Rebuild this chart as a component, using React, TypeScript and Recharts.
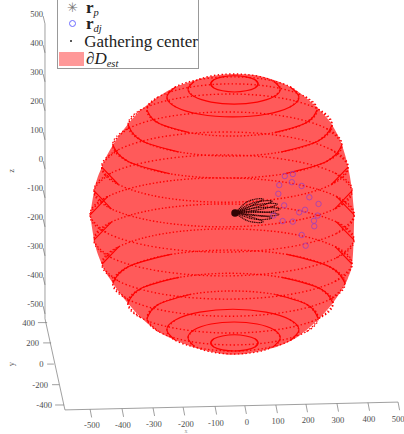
import React from "react";
import { ComposedChart, XAxis, YAxis, Area, Line, Scatter } from "recharts";

// Projected read-outs, in the units of the x and z tick labels.
const outlineX = [-511,-498,-473,-437,-388,-343,-289,-232,-172,-114,-42,16,72,114,169,233,277,309,329,342,347,349];
const outlineTop = [-193,-110,-28,48,120,171,214,249,270,286,293,290,277,262,230,171,117,48,-28,-110,-165,-193];
const outlineBottom = [-193,-279,-362,-428,-497,-549,-595,-626,-650,-665,-675,-668,-655,-640,-610,-552,-500,-450,-410,-362,-285,-200];

const ringX = [
  [36,26,-3,-41,-80,-108,-118],
  [108,88,33,-42,-117,-172,-192],
  [169,140,62,-46,-154,-232,-261],
  [228,191,90,-49,-188,-289,-326],
  [277,233,111,-55,-221,-343,-387],
  [309,259,123,-64,-251,-387,-437],
  [329,275,129,-72,-273,-419,-473],
  [342,286,132,-78,-288,-442,-498],
  [349,291,134,-81,-296,-453,-511],
  [348,291,137,-75,-287,-441,-498],
  [342,287,139,-65,-269,-417,-472],
  [319,268,130,-59,-248,-386,-437],
  [280,235,113,-54,-221,-343,-388],
  [231,194,92,-47,-186,-288,-325],
  [169,140,62,-46,-154,-232,-261],
  [108,88,33,-42,-117,-172,-192],
  [36,26,-3,-41,-80,-108,-118],
];
const ringLower = [
  [259,245,235,231,235,245,259],
  [241,215,196,189,196,215,241],
  [214,179,154,145,154,179,214],
  [169,124,91,79,91,124,169],
  [117,63,24,10,24,63,117],
  [48,-9,-51,-66,-51,-9,48],
  [-28,-88,-133,-149,-133,-88,-28],
  [-110,-172,-217,-234,-217,-172,-110],
  [-193,-257,-304,-321,-304,-257,-193],
  [-279,-341,-386,-403,-386,-341,-279],
  [-362,-422,-467,-483,-467,-422,-362],
  [-428,-485,-527,-542,-527,-485,-428],
  [-497,-549,-586,-600,-586,-549,-497],
  [-548,-595,-629,-641,-629,-595,-548],
  [-590,-626,-652,-662,-652,-626,-590],
  [-617,-645,-665,-672,-665,-645,-617],
  [-634,-648,-658,-662,-658,-648,-634],
];
const ringUpper = [
  [259,273,283,287,283,273,259],
  [241,267,286,293,286,267,241],
  [214,249,274,283,274,249,214],
  [169,214,247,259,247,214,169],
  [117,171,210,224,210,171,117],
  [48,105,147,162,147,105,48],
  [-28,32,77,93,77,32,-28],
  [-110,-48,-3,14,-3,-48,-110],
  [-193,-129,-82,-65,-82,-129,-193],
  [-279,-217,-172,-155,-172,-217,-279],
  [-362,-302,-257,-241,-257,-302,-362],
  [-428,-371,-329,-314,-329,-371,-428],
  [-497,-445,-408,-394,-408,-445,-497],
  [-548,-501,-467,-455,-467,-501,-548],
  [-590,-554,-528,-518,-528,-554,-590],
  [-617,-589,-569,-562,-569,-589,-617],
  [-634,-620,-610,-606,-610,-620,-634],
];

const rdjX = [123,149,105,146,178,102,203,233,121,189,170,230,86,218,116,149,219,178,191];
const rdjZ = [-59,-52,-90,-80,-93,-120,-132,-155,-160,-175,-184,-195,-195,-213,-214,-216,-232,-262,-299];
const gatherX = [-39];
const gatherZ = [-186];

const petalX = [
  [-39,-13,16,52,29,0,-39],
  [-39,-3,36,81,52,10,-39],
  [-39,3,49,98,65,16,-39],
  [-39,10,59,107,68,16,-39],
  [-39,10,59,104,62,10,-39],
  [-39,3,42,81,42,-3,-39],
  [-39,-7,23,52,16,-16,-39],
];
const petalZ = [
  [-186,-159,-141,-138,-153,-169,-186],
  [-186,-162,-147,-145,-159,-172,-186],
  [-186,-166,-155,-155,-169,-178,-186],
  [-186,-172,-167,-172,-183,-184,-186],
  [-186,-181,-183,-191,-197,-193,-186],
  [-186,-190,-195,-203,-209,-200,-186],
  [-186,-193,-203,-217,-217,-203,-186],
];

const zTicks = [500,400,300,200,100,0,-100,-200,-300,-400,-500];
const xTicks = [-500,-400,-300,-200,-100,0,100,200,300,400,500];
const xTickAt = [-511,-407,-306,-208,-104,-7,94,192,293,394,492];
const xTickBase = [-863,-861,-858,-856,-853,-851,-848,-845,-843,-840,-838];
const xLabelAt = [-505,-404,-303,-199,-101,0,101,199,296,397,492];
const xLabelZ = [-917,-917,-914,-914,-910,-907,-903,-900,-900,-896,-896];
const yTicks = [400,200,0,-200,-400];
const yTickStart = [-651,-638,-629,-612,-596];
const yTickEnd = [-681,-664,-651,-635,-625];
const yTickZ = [-564,-634,-707,-778,-848];
const yLabelAt = [-690,-677,-663,-648,-635];

const axisColor = "#777777";
const labelColor = "#4d4d4d";
const labelFont = "'Liberation Serif', serif";

const zip = (xs: number[], zs: number[]) => xs.map((x, i) => ({ x, z: zs[i] }));
const band = outlineX.map((x, i) => ({ x, band: [outlineBottom[i], outlineTop[i]] }));

const textMark = (anchor: string, size = 8.6, rotate = false, fill = labelColor) => (p: any) => (
  <text
    x={p.cx}
    y={p.cy}
    textAnchor={anchor as any}
    dominantBaseline="central"
    fontFamily={labelFont}
    fontSize={size}
    fill={fill}
    transform={rotate ? `rotate(-90 ${p.cx} ${p.cy})` : undefined}
  >
    {p.payload.label}
  </text>
);

const lineProps = {
  dataKey: "z",
  dot: false,
  activeDot: false,
  isAnimationActive: false,
  legendType: "none" as const,
};

function axisLines() {
  const out: React.ReactElement[] = [];
  const seg = (key: string, data: { x: number; z: number }[]) =>
    out.push(<Line key={key} {...lineProps} data={data} type="linear" stroke={axisColor} strokeWidth={0.7} />);
  seg("zaxis", zip([-658, -658, -593, 492], [466, -550, -865, -838]));
  zTicks.forEach((t) => seg("zt" + t, zip([-664, -658], [t - 7, t - 34])));
  yTicks.forEach((t, i) => seg("yt" + t, zip([yTickStart[i], yTickEnd[i]], [yTickZ[i], yTickZ[i]])));
  xTicks.forEach((t, i) => seg("xt" + t, zip([xTickAt[i], xTickAt[i] + 5], [xTickBase[i], xTickBase[i] - 28])));
  return out;
}

function ringLines() {
  const out: React.ReactElement[] = [];
  ringX.forEach((xs, r) => {
    const lo = ringLower[r];
    const up = ringUpper[r];
    const nearLower = r < 8;
    const near = nearLower ? lo : up;
    const far = nearLower ? up : lo;
    const nearArc = [{ x: xs[1], z: far[1] }, ...zip(xs, near), { x: xs[5], z: far[5] }];
    const farArc = [{ x: xs[1], z: near[1] }, ...zip(xs, far), { x: xs[5], z: near[5] }];
    const solidNear = r <= 2 || r >= 14;
    const both = r === 0 || r === 16;
    out.push(
      <Line key={"near" + r} {...lineProps} data={nearArc} type="natural" stroke="#ff0000" strokeWidth={solidNear ? 1.15 : 1.4}
        strokeDasharray={solidNear ? undefined : "1.4 2.1"} />,
      <Line key={"far" + r} {...lineProps} data={farArc} type="natural" stroke="#ff0000" strokeWidth={both ? 1.15 : 1.4}
        strokeDasharray={both ? undefined : "1.4 2.4"} />
    );
    if (!solidNear) {
      const reach = Math.abs(r - 8) >= 3 ? 2 : 1;
      const right = [{ x: xs[0], z: near[0] }];
      const left = [{ x: xs[6], z: near[6] }];
      for (let k = 1; k <= reach; k++) {
        right.push({ x: xs[k], z: near[k] });
        left.push({ x: xs[6 - k], z: near[6 - k] });
      }
      out.push(
        <Line key={"cr" + r} {...lineProps} data={right} type="natural" stroke="#ff0000" strokeWidth={1.15} />,
        <Line key={"cl" + r} {...lineProps} data={left} type="natural" stroke="#ff0000" strokeWidth={1.15} />
      );
    }
  });
  return out;
}

function LegendBox() {
  const row = (top: number, h: number, icon: React.ReactNode, label: React.ReactNode) => (
    <div style={{ position: "absolute", left: 0, top, height: h, width: 140, display: "flex", alignItems: "center" }}>
      <div style={{ width: 28, display: "flex", justifyContent: "center", alignItems: "center" }}>{icon}</div>
      <div style={{ whiteSpace: "nowrap", lineHeight: "15px" }}>{label}</div>
    </div>
  );
  const sub = { fontSize: 10.5, fontStyle: "italic", verticalAlign: "-3px", lineHeight: 0 } as React.CSSProperties;
  return (
    <div
      style={{
        position: "absolute", left: 57, top: -20, width: 142, height: 89, boxSizing: "border-box",
        background: "#fff", border: "1px solid #999", fontFamily: labelFont, fontSize: 17, color: "#222",
      }}
    >
      {row(19, 15, <span style={{ color: "#777", fontSize: 13, lineHeight: "14px" }}>✳</span>,
        <span><b>r</b><span style={sub}>p</span></span>)}
      {row(35, 15, <span style={{ width: 5, height: 5, border: "1px solid #6a6aff", borderRadius: "50%", display: "block" }} />,
        <span><b>r</b><span style={sub}>dj</span></span>)}
      {row(52, 16, <span style={{ width: 2, height: 2, background: "#222", borderRadius: "50%", display: "block" }} />, "Gathering center")}
      <div style={{ position: "absolute", left: 1, top: 71, width: 25, height: 14, background: "#ff9999" }} />
      <div style={{ position: "absolute", left: 28, top: 69, height: 18, lineHeight: "18px", whiteSpace: "nowrap", fontStyle: "italic" }}>
        ∂D<span style={sub}>est</span>
      </div>
    </div>
  );
}

export default function App() {
  return (
    <div style={{ position: "absolute", left: 0, top: 0, width: 404, height: 434, overflow: "hidden", background: "#fff" }}>
      <ComposedChart width={404} height={434} margin={{ top: 0, right: 0, bottom: 0, left: 0 }}>
        <XAxis type="number" dataKey="x" domain={[-804.5, 511.3]} hide allowDataOverflow />
        <YAxis type="number" dataKey="z" domain={[-948, 548]} hide allowDataOverflow width={0} />
        <Area data={band} dataKey="band" type="monotoneX" stroke="none" fill="#ff5a5a" fillOpacity={1} dot={false} activeDot={false} isAnimationActive={false} />
        {ringLines()}
        {petalX.map((xs, i) => (
          <Line key={"p" + i} {...lineProps} data={zip(xs, petalZ[i])} type="natural" stroke="#300303" strokeWidth={1.2} strokeDasharray="1.2 0.6" />
        ))}
        {axisLines()}
        <Scatter data={zip(rdjX, rdjZ)} isAnimationActive={false}
          shape={(p: any) => <circle cx={p.cx} cy={p.cy} r={2.7} fill="none" stroke="#9a3fc0" strokeWidth={0.8} />} />
        <Scatter data={zip(gatherX, gatherZ)} isAnimationActive={false}
          shape={(p: any) => <circle cx={p.cx} cy={p.cy} r={3.8} fill="#300404" />} />
        <Scatter data={zTicks.map((t) => ({ x: -664, z: t, label: String(t) }))} isAnimationActive={false} shape={textMark("end")} />
        <Scatter data={yTicks.map((t, i) => ({ x: yLabelAt[i], z: yTickZ[i], label: String(t) }))} isAnimationActive={false} shape={textMark("end")} />
        <Scatter data={xTicks.map((t, i) => ({ x: xLabelAt[i], z: xLabelZ[i], label: String(t) }))} isAnimationActive={false} shape={textMark("middle")} />
        <Scatter data={[{ x: -768, z: -41, label: "z" }, { x: -768, z: -707, label: "y" }]} isAnimationActive={false} shape={textMark("middle", 8.6, true)} />
        <Scatter data={[{ x: -199, z: -937, label: "x" }]} isAnimationActive={false} shape={textMark("middle", 6, false, "#999999")} />
      </ComposedChart>
      <LegendBox />
    </div>
  );
}
